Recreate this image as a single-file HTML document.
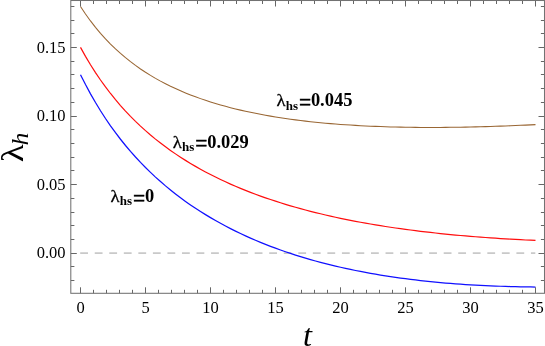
<!DOCTYPE html>
<html><head><meta charset="utf-8"><title>plot</title>
<style>html,body{margin:0;padding:0;background:#fff}svg{display:block}text{font-family:"Liberation Serif",serif;fill:#000}</style></head><body>
<svg width="545" height="346" viewBox="0 0 545 346" style="will-change:transform">
<rect width="545" height="346" fill="#fff"/>
<line x1="80.2" y1="253.1" x2="535.3" y2="253.1" stroke="#c9c9c9" stroke-width="1.7" stroke-dasharray="7.8 6.74"/>
<path d="M80.5 6.58 L85.5 14.03 L90.5 20.94 L95.5 27.36 L100.5 33.33 L105.5 38.89 L110.5 44.07 L115.5 48.92 L120.5 53.46 L125.5 57.71 L130.5 61.69 L135.5 65.44 L140.5 68.96 L145.5 72.27 L150.5 75.40 L155.5 78.34 L160.5 81.13 L165.5 83.75 L170.5 86.24 L175.5 88.59 L180.5 90.82 L185.5 92.93 L190.5 94.93 L195.5 96.82 L200.5 98.62 L205.5 100.33 L210.5 101.96 L215.5 103.50 L220.5 104.96 L225.5 106.35 L230.5 107.68 L235.5 108.93 L240.5 110.13 L245.5 111.26 L250.5 112.34 L255.5 113.36 L260.5 114.34 L265.5 115.26 L270.5 116.14 L275.5 116.97 L280.5 117.76 L285.5 118.51 L290.5 119.21 L295.5 119.88 L300.5 120.51 L305.5 121.11 L310.5 121.67 L315.5 122.21 L320.5 122.70 L325.5 123.17 L330.5 123.61 L335.5 124.02 L340.5 124.40 L345.5 124.76 L350.5 125.09 L355.5 125.39 L360.5 125.68 L365.5 125.93 L370.5 126.17 L375.5 126.38 L380.5 126.57 L385.5 126.75 L390.5 126.90 L395.5 127.03 L400.5 127.14 L405.5 127.23 L410.5 127.31 L415.5 127.37 L420.5 127.41 L425.5 127.44 L430.5 127.45 L435.5 127.44 L440.5 127.42 L445.5 127.39 L450.5 127.34 L455.5 127.27 L460.5 127.20 L465.5 127.11 L470.5 127.00 L475.5 126.89 L480.5 126.76 L485.5 126.62 L490.5 126.47 L495.5 126.31 L500.5 126.13 L505.5 125.95 L510.5 125.75 L515.5 125.55 L520.5 125.33 L525.5 125.11 L530.5 124.87 L535.5 124.63" fill="none" stroke="#996633" stroke-width="1.05"/>
<path d="M80.5 47.38 L85.5 56.36 L90.5 64.75 L95.5 72.61 L100.5 80.00 L105.5 86.95 L110.5 93.50 L115.5 99.69 L120.5 105.55 L125.5 111.09 L130.5 116.36 L135.5 121.36 L140.5 126.12 L145.5 130.65 L150.5 134.97 L155.5 139.10 L160.5 143.04 L165.5 146.81 L170.5 150.42 L175.5 153.88 L180.5 157.20 L185.5 160.38 L190.5 163.44 L195.5 166.38 L200.5 169.20 L205.5 171.92 L210.5 174.54 L215.5 177.06 L220.5 179.49 L225.5 181.83 L230.5 184.08 L235.5 186.26 L240.5 188.36 L245.5 190.39 L250.5 192.35 L255.5 194.24 L260.5 196.07 L265.5 197.83 L270.5 199.54 L275.5 201.19 L280.5 202.78 L285.5 204.32 L290.5 205.82 L295.5 207.26 L300.5 208.65 L305.5 210.00 L310.5 211.31 L315.5 212.57 L320.5 213.79 L325.5 214.97 L330.5 216.12 L335.5 217.22 L340.5 218.29 L345.5 219.33 L350.5 220.33 L355.5 221.30 L360.5 222.23 L365.5 223.14 L370.5 224.02 L375.5 224.86 L380.5 225.68 L385.5 226.47 L390.5 227.23 L395.5 227.97 L400.5 228.68 L405.5 229.37 L410.5 230.03 L415.5 230.67 L420.5 231.29 L425.5 231.89 L430.5 232.46 L435.5 233.02 L440.5 233.55 L445.5 234.06 L450.5 234.56 L455.5 235.03 L460.5 235.49 L465.5 235.93 L470.5 236.35 L475.5 236.76 L480.5 237.15 L485.5 237.52 L490.5 237.88 L495.5 238.22 L500.5 238.55 L505.5 238.86 L510.5 239.16 L515.5 239.45 L520.5 239.72 L525.5 239.98 L530.5 240.22 L535.5 240.46" fill="none" stroke="#ff0d0d" stroke-width="1.2"/>
<path d="M80.5 74.68 L85.5 84.57 L90.5 93.84 L95.5 102.55 L100.5 110.75 L105.5 118.48 L110.5 125.79 L115.5 132.70 L120.5 139.25 L125.5 145.48 L130.5 151.40 L135.5 157.03 L140.5 162.40 L145.5 167.53 L150.5 172.42 L155.5 177.11 L160.5 181.59 L165.5 185.89 L170.5 190.00 L175.5 193.95 L180.5 197.75 L185.5 201.39 L190.5 204.90 L195.5 208.27 L200.5 211.51 L205.5 214.63 L210.5 217.63 L215.5 220.53 L220.5 223.32 L225.5 226.01 L230.5 228.60 L235.5 231.10 L240.5 233.51 L245.5 235.84 L250.5 238.08 L255.5 240.25 L260.5 242.34 L265.5 244.35 L270.5 246.30 L275.5 248.18 L280.5 249.99 L285.5 251.73 L290.5 253.42 L295.5 255.04 L300.5 256.61 L305.5 258.12 L310.5 259.58 L315.5 260.98 L320.5 262.34 L325.5 263.64 L330.5 264.89 L335.5 266.10 L340.5 267.26 L345.5 268.38 L350.5 269.45 L355.5 270.49 L360.5 271.48 L365.5 272.43 L370.5 273.34 L375.5 274.22 L380.5 275.06 L385.5 275.86 L390.5 276.63 L395.5 277.36 L400.5 278.06 L405.5 278.73 L410.5 279.37 L415.5 279.97 L420.5 280.55 L425.5 281.10 L430.5 281.62 L435.5 282.11 L440.5 282.57 L445.5 283.01 L450.5 283.42 L455.5 283.81 L460.5 284.17 L465.5 284.51 L470.5 284.82 L475.5 285.11 L480.5 285.38 L485.5 285.63 L490.5 285.86 L495.5 286.06 L500.5 286.25 L505.5 286.41 L510.5 286.56 L515.5 286.69 L520.5 286.79 L525.5 286.89 L530.5 286.96 L535.5 287.01" fill="none" stroke="#1010ff" stroke-width="1.25"/>
<path d="M80.50 293.3 v-6 M80.50 0.5 v6 M93.50 293.3 v-3.5 M93.50 0.5 v3.5 M106.50 293.3 v-3.5 M106.50 0.5 v3.5 M119.50 293.3 v-3.5 M119.50 0.5 v3.5 M132.50 293.3 v-3.5 M132.50 0.5 v3.5 M145.50 293.3 v-6 M145.50 0.5 v6 M158.50 293.3 v-3.5 M158.50 0.5 v3.5 M171.50 293.3 v-3.5 M171.50 0.5 v3.5 M184.50 293.3 v-3.5 M184.50 0.5 v3.5 M197.50 293.3 v-3.5 M197.50 0.5 v3.5 M210.50 293.3 v-6 M210.50 0.5 v6 M223.50 293.3 v-3.5 M223.50 0.5 v3.5 M236.50 293.3 v-3.5 M236.50 0.5 v3.5 M249.50 293.3 v-3.5 M249.50 0.5 v3.5 M262.50 293.3 v-3.5 M262.50 0.5 v3.5 M275.50 293.3 v-6 M275.50 0.5 v6 M288.50 293.3 v-3.5 M288.50 0.5 v3.5 M301.50 293.3 v-3.5 M301.50 0.5 v3.5 M314.50 293.3 v-3.5 M314.50 0.5 v3.5 M327.50 293.3 v-3.5 M327.50 0.5 v3.5 M340.50 293.3 v-6 M340.50 0.5 v6 M353.50 293.3 v-3.5 M353.50 0.5 v3.5 M366.50 293.3 v-3.5 M366.50 0.5 v3.5 M379.50 293.3 v-3.5 M379.50 0.5 v3.5 M392.50 293.3 v-3.5 M392.50 0.5 v3.5 M405.50 293.3 v-6 M405.50 0.5 v6 M418.50 293.3 v-3.5 M418.50 0.5 v3.5 M431.50 293.3 v-3.5 M431.50 0.5 v3.5 M444.50 293.3 v-3.5 M444.50 0.5 v3.5 M457.50 293.3 v-3.5 M457.50 0.5 v3.5 M470.50 293.3 v-6 M470.50 0.5 v6 M483.50 293.3 v-3.5 M483.50 0.5 v3.5 M496.50 293.3 v-3.5 M496.50 0.5 v3.5 M509.50 293.3 v-3.5 M509.50 0.5 v3.5 M522.50 293.3 v-3.5 M522.50 0.5 v3.5 M535.50 293.3 v-6 M535.50 0.5 v6 M70.8 280.50 h3.6 M544.5 280.50 h-3.6 M70.8 266.50 h3.6 M544.5 266.50 h-3.6 M70.8 253.50 h6 M544.5 253.50 h-6 M70.8 239.50 h3.6 M544.5 239.50 h-3.6 M70.8 225.50 h3.6 M544.5 225.50 h-3.6 M70.8 212.50 h3.6 M544.5 212.50 h-3.6 M70.8 198.50 h3.6 M544.5 198.50 h-3.6 M70.8 184.50 h6 M544.5 184.50 h-6 M70.8 170.50 h3.6 M544.5 170.50 h-3.6 M70.8 157.50 h3.6 M544.5 157.50 h-3.6 M70.8 143.50 h3.6 M544.5 143.50 h-3.6 M70.8 129.50 h3.6 M544.5 129.50 h-3.6 M70.8 116.50 h6 M544.5 116.50 h-6 M70.8 102.50 h3.6 M544.5 102.50 h-3.6 M70.8 88.50 h3.6 M544.5 88.50 h-3.6 M70.8 74.50 h3.6 M544.5 74.50 h-3.6 M70.8 61.50 h3.6 M544.5 61.50 h-3.6 M70.8 47.50 h6 M544.5 47.50 h-6 M70.8 33.50 h3.6 M544.5 33.50 h-3.6 M70.8 20.50 h3.6 M544.5 20.50 h-3.6 M70.8 6.50 h3.6 M544.5 6.50 h-3.6" fill="none" stroke="#666" stroke-width="1"/>
<rect x="70.8" y="0.5" width="473.7" height="292.8" fill="none" stroke="#727272" stroke-width="1.05"/>
<text x="80.5" y="312.8" font-size="16.5" text-anchor="middle">0</text>
<text x="145.5" y="312.8" font-size="16.5" text-anchor="middle">5</text>
<text x="210.5" y="312.8" font-size="16.5" text-anchor="middle">10</text>
<text x="275.5" y="312.8" font-size="16.5" text-anchor="middle">15</text>
<text x="340.5" y="312.8" font-size="16.5" text-anchor="middle">20</text>
<text x="405.5" y="312.8" font-size="16.5" text-anchor="middle">25</text>
<text x="470.5" y="312.8" font-size="16.5" text-anchor="middle">30</text>
<text x="535.5" y="312.8" font-size="16.5" text-anchor="middle">35</text>
<text x="65.6" y="258.3" font-size="16.5" text-anchor="end">0.00</text>
<text x="65.6" y="189.7" font-size="16.5" text-anchor="end">0.05</text>
<text x="65.6" y="121.2" font-size="16.5" text-anchor="end">0.10</text>
<text x="65.6" y="52.6" font-size="16.5" text-anchor="end">0.15</text>
<text x="303.1" y="346.0" font-size="32.3" font-style="italic">t</text>
<g transform="translate(23.4 162.2) rotate(-90)"><text transform="scale(1.15 1)" x="0" y="0" font-size="32.3">λ</text><text transform="translate(16.7 4.6) scale(1.12 1)" font-size="23" font-style="italic">h</text></g>
<g transform="translate(277.0 106.2)"><text transform="translate(-0.48 0) scale(1.08 1)" font-size="17.3" stroke="#000" stroke-width="0.25">λ</text><text x="8.7" y="3.4" font-size="13" font-weight="bold">hs</text><text transform="translate(21.9 4.5) scale(1.17 1.39)" font-size="18.4" stroke="#000" stroke-width="0.35">=</text><text x="33.9" y="0" font-size="18.44" font-weight="bold">0.045</text></g>
<g transform="translate(173.3 147.6)"><text transform="translate(-0.48 0) scale(1.08 1)" font-size="17.3" stroke="#000" stroke-width="0.25">λ</text><text x="8.7" y="3.4" font-size="13" font-weight="bold">hs</text><text transform="translate(21.9 4.5) scale(1.17 1.39)" font-size="18.4" stroke="#000" stroke-width="0.35">=</text><text x="33.9" y="0" font-size="18.44" font-weight="bold">0.029</text></g>
<g transform="translate(111.0 202.0)"><text transform="translate(-0.48 0) scale(1.08 1)" font-size="17.3" stroke="#000" stroke-width="0.25">λ</text><text x="8.7" y="3.4" font-size="13" font-weight="bold">hs</text><text transform="translate(21.9 4.5) scale(1.17 1.39)" font-size="18.4" stroke="#000" stroke-width="0.35">=</text><text x="33.9" y="0" font-size="18.44" font-weight="bold">0</text></g>
</svg></body></html>
